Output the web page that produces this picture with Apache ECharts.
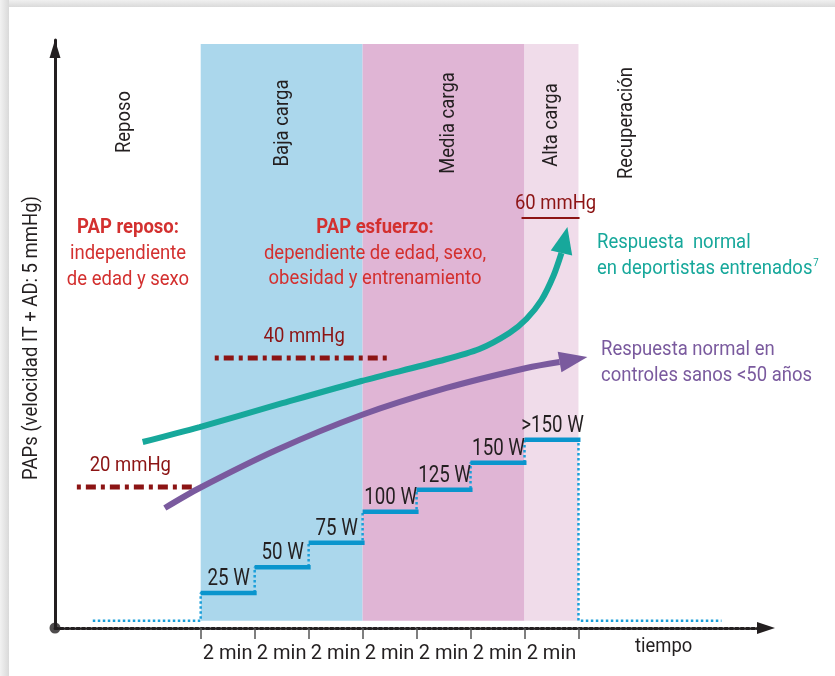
<!DOCTYPE html>
<html>
<head>
<meta charset="utf-8">
<script src="https://cdn.jsdelivr.net/npm/echarts@6.0.0/dist/echarts.min.js"></script>
<style>
	html, body { margin: 0; padding: 0; background: #ffffff; }
	#chart { width: 835px; height: 676px; }
</style>
</head>
<body>
<div id="chart"></div>
<script>
// Stages of the exercise test (x in minutes, 2 min per load step)
let stageNames = ['Reposo', 'Baja carga', 'Media carga', 'Alta carga', 'Recuperación'];
let bandStart = [0, 6, 12];
let bandEnd = [6, 12, 14];
let bandTop = 99.3;
let baseLevel = 1.24;

// Load steps (y in schematic PAPs units)
let stepStart = [0, 2, 4, 6, 8, 10, 12];
let stepEnd = [2, 4, 6, 8, 10, 12, 14];
let stepLabels = ['25 W', '50 W', '75 W', '100 W', '125 W', '150 W', '>150 W'];
let stepLevels = [5.95, 10.32, 14.51, 19.78, 23.52, 28.11, 32.02];
let restStart = -4.0;
let recoveryEnd = 19.3;

// Time axis
let tickMinutes = [0, 2, 4, 6, 8, 10, 12, 14];
let tickLabelAt = [1, 3, 5, 7, 9, 11, 13];

// Reference pressures
let refLabels = ['20 mmHg', '40 mmHg', '60 mmHg'];
let refFrom = [-4.59, 0.52, 11.89];
let refTo = [-0.33, 6.93, 14.04];
let refLevels = [23.98, 45.92, 69.73];

// Response curves
let trainedX = [-2.15, -0.04, 2.93, 5.96, 8.85, 10.33, 11.44, 12.07, 12.63, 13.07, 13.37];
let trainedY = [31.63, 34.18, 38.10, 42.01, 45.41, 47.45, 50.17, 52.55, 55.78, 59.86, 63.78];
let trainedTip = [13.59, 68.20];
let controlX = [-1.33, -0.04, 2.81, 5.96, 9.11, 12.07, 13.30];
let controlY = [20.41, 23.81, 30.27, 36.22, 40.82, 44.22, 45.24];
let controlTip = [14.33, 46.09];

const FONT = "Roboto, 'Liberation Sans', sans-serif";
const NARROW = 0.88; // the original uses a condensed face
const INK = '#231f20';
const RED = '#d3302f';
const DARKRED = '#8c1414';
const TEAL = '#17a89b';
const PURPLE = '#7a5a9e';
const BLUE = '#0a95cd';

function zip(xs, ys) {
	let out = [];
	for (let i = 0; i < xs.length; i++) {
		out.push([xs[i], ys[i]]);
	}
	return out;
}

// stair path for the dotted outline
let stairData = [[restStart, baseLevel]];
for (let i = 0; i < stepStart.length; i++) {
	stairData.push([stepStart[i], stepLevels[i]]);
}
stairData.push([stepEnd[stepEnd.length - 1], baseLevel]);
stairData.push([recoveryEnd, baseLevel]);

let bandColors = ['#abd7ec', '#e0b5d5', '#f0dcea'];
let refLabelShift = [-4, 3, 5];

function text(x, y, str, opts) {
	let o = opts || {};
	return {
		type: 'text',
		x: x,
		y: y,
		rotation: o.rotation || 0,
		scaleX: o.scaleX || NARROW,
		z: 50,
		style: {
			text: str,
			fill: o.color || INK,
			font: (o.bold ? 'bold ' : '') + (o.size || 21) + 'px ' + FONT,
			textAlign: o.align || 'center',
			textVerticalAlign: 'middle',
			rich: o.rich
		}
	};
}

let graphics = [
	// page frame shading
	{ type: 'rect', shape: { x: 0, y: 0, width: 835, height: 7 }, z: 0,
		style: { fill: new echarts.graphic.LinearGradient(0, 0, 0, 1, [{ offset: 0, color: '#f0f0f0' }, { offset: 1, color: '#dadada' }]) } },
	{ type: 'rect', shape: { x: 0, y: 0, width: 9, height: 676 }, z: 0,
		style: { fill: new echarts.graphic.LinearGradient(0, 0, 1, 0, [{ offset: 0, color: '#f2f2f2' }, { offset: 1, color: '#d9d9d9' }]) } },

	text(32, 338, 'PAPs (velocidad IT + AD: 5 mmHg)', { rotation: Math.PI / 2 }),

	text(125, 122, stageNames[0], { rotation: Math.PI / 2 }),
	text(283, 123, stageNames[1], { rotation: Math.PI / 2 }),
	text(449, 123, stageNames[2], { rotation: Math.PI / 2 }),
	text(552, 125, stageNames[3], { rotation: Math.PI / 2 }),
	text(627, 123, stageNames[4], { rotation: Math.PI / 2 }),

	text(128, 228, 'PAP reposo:', { color: RED, bold: true }),
	text(128, 254, 'independiente', { color: RED }),
	text(128, 280, 'de edad y sexo', { color: RED }),

	text(375, 228, 'PAP esfuerzo:', { color: RED, bold: true }),
	text(375, 254, 'dependiente de edad, sexo,', { color: RED }),
	text(375, 279, 'obesidad y entrenamiento', { color: RED }),

	text(597, 243, 'Respuesta  normal', { color: TEAL, align: 'left' }),
	text(597, 269, '{a|en deportistas entrenados}{s|7}', { color: TEAL, align: 'left',
		rich: { a: { fontFamily: FONT, fontSize: 21, color: TEAL }, s: { fontFamily: FONT, fontSize: 11, color: TEAL, padding: [0, 0, 12, 1] } } }),

	text(601, 350, 'Respuesta normal en', { color: PURPLE, align: 'left' }),
	text(601, 376, 'controles sanos <50 años', { color: PURPLE, align: 'left' }),

	text(635, 647, 'tiempo', { align: 'left', size: 20, scaleX: 0.92 })
];

let chart = echarts.init(document.getElementById('chart'));

let option = {
	animation: false,
	backgroundColor: '#ffffff',
	graphic: graphics,
	grid: { left: 55, right: 69, top: 40, bottom: 48 },
	xAxis: {
		type: 'value',
		min: -5.4,
		max: 20.95,
		splitLine: { show: false },
		axisLine: {
			show: true,
			onZero: false,
			symbol: ['none', 'triangle'],
			symbolSize: [12, 18],
			lineStyle: { color: INK, width: 3, type: [3, 2.4] }
		},
		axisTick: {
			show: true,
			customValues: tickMinutes,
			length: 11,
			lineStyle: { color: '#555555', width: 1.5 }
		},
		axisLabel: {
			customValues: tickLabelAt,
			formatter: function () { return '2 min'; },
			margin: 16,
			color: INK,
			fontSize: 20,
			fontFamily: FONT
		}
	},
	yAxis: {
		type: 'value',
		min: 0,
		max: 100,
		splitLine: { show: false },
		axisTick: { show: false },
		axisLabel: { show: false },
		axisLine: {
			show: true,
			onZero: false,
			symbol: ['none', 'triangle'],
			symbolSize: [11, 18],
			symbolOffset: [0, -9],
			lineStyle: { color: INK, width: 3 }
		}
	},
	series: [
		{
			// load bands
			type: 'custom',
			z: 1,
			silent: true,
			data: zip(bandStart, bandEnd),
			renderItem: function (params, api) {
				let a = api.coord([api.value(0), bandTop]);
				let b = api.coord([api.value(1), baseLevel]);
				return {
					type: 'rect',
					shape: { x: a[0], y: a[1], width: b[0] - a[0], height: b[1] - a[1] },
					style: { fill: bandColors[params.dataIndex] }
				};
			}
		},
		{
			// dotted stair outline
			type: 'line',
			z: 2,
			step: 'end',
			symbol: 'none',
			data: stairData,
			lineStyle: { color: '#1b9fda', width: 2.5, type: [2.5, 2.5] }
		},
		{
			// load steps with watt labels
			type: 'custom',
			z: 3,
			data: stepStart.map(function (s, i) { return [s, stepEnd[i], stepLevels[i]]; }),
			renderItem: function (params, api) {
				let a = api.coord([api.value(0), api.value(2)]);
				let b = api.coord([api.value(1), api.value(2)]);
				return {
					type: 'group',
					children: [
						{ type: 'line', shape: { x1: a[0], y1: a[1], x2: b[0] + 2, y2: b[1] },
							style: { stroke: BLUE, lineWidth: 4.5 } },
						{ type: 'text', x: (a[0] + b[0]) / 2 + 1, y: a[1] - 14, scaleX: 0.78,
							style: { text: stepLabels[params.dataIndex], fill: INK, font: '24px ' + FONT,
								textAlign: 'center', textVerticalAlign: 'middle' } }
					]
				};
			}
		},
		{
			// reference pressures
			type: 'custom',
			z: 3,
			data: refFrom.map(function (f, i) { return [f, refTo[i], refLevels[i]]; }),
			renderItem: function (params, api) {
				let a = api.coord([api.value(0), api.value(2)]);
				let b = api.coord([api.value(1), api.value(2)]);
				let solid = params.dataIndex == 2;
				return {
					type: 'group',
					children: [
						{ type: 'line', shape: { x1: a[0], y1: a[1], x2: b[0], y2: b[1] },
							style: { stroke: DARKRED, lineWidth: solid ? 2 : 5, lineDash: solid ? null : [4, 5, 10, 5] } },
						{ type: 'text', x: (a[0] + b[0]) / 2 + refLabelShift[params.dataIndex], y: a[1] - (solid ? 14 : 21), scaleX: NARROW,
							style: { text: refLabels[params.dataIndex], fill: DARKRED, font: '21px ' + FONT,
								textAlign: 'center', textVerticalAlign: 'middle' } }
					]
				};
			}
		},
		{
			name: 'entrenados',
			type: 'line',
			z: 4,
			smooth: 0.3,
			symbol: 'none',
			data: zip(trainedX, trainedY),
			lineStyle: { color: TEAL, width: 6 }
		},
		{
			name: 'controles',
			type: 'line',
			z: 4,
			smooth: 0.3,
			symbol: 'none',
			data: zip(controlX, controlY),
			lineStyle: { color: PURPLE, width: 6 }
		},
		{
			// arrow heads
			type: 'custom',
			z: 5,
			data: [
				[trainedTip[0], trainedTip[1], trainedX[trainedX.length - 1], trainedY[trainedY.length - 1]],
				[controlTip[0], controlTip[1], controlX[controlX.length - 1], controlY[controlY.length - 1]]
			],
			renderItem: function (params, api) {
				let tip = api.coord([api.value(0), api.value(1)]);
				let base = api.coord([api.value(2), api.value(3)]);
				let dx = tip[0] - base[0];
				let dy = tip[1] - base[1];
				let len = Math.sqrt(dx * dx + dy * dy);
				let nx = -dy / len;
				let ny = dx / len;
				let w = params.dataIndex == 0 ? 11 : 10.5;
				return {
					type: 'polygon',
					shape: { points: [tip, [base[0] + nx * w, base[1] + ny * w], [base[0] - nx * w, base[1] - ny * w]] },
					style: { fill: params.dataIndex == 0 ? TEAL : PURPLE }
				};
			}
		},
		{
			// origin dot
			type: 'scatter',
			z: 6,
			clip: false,
			symbolSize: 11,
			data: [[-5.4, 0]],
			itemStyle: { color: INK }
		}
	]
};

chart.setOption(option);
</script>
</body>
</html>
